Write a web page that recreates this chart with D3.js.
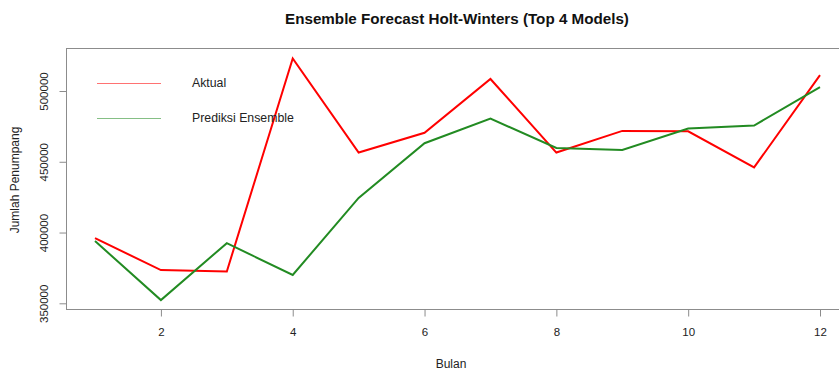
<!DOCTYPE html>
<html><head><meta charset="utf-8">
<script src="https://cdn.jsdelivr.net/npm/d3@7"></script>
<style>body{margin:0;background:#fff;} text{font-family:"Liberation Sans",Arial,sans-serif;}</style>
</head><body>
<svg id="c" width="839" height="370"></svg>
<script>
const months = [1,2,3,4,5,6,7,8,9,10,11,12];
const aktual = [396000,373500,372500,523000,456500,470500,508500,456500,471800,471500,446000,511200];
const ensemble = [394000,352300,392500,370000,424500,463100,480500,459800,458400,473500,475600,502800];
const xTicks = [2,4,6,8,10,12];
const yTicks = [350000,400000,450000,500000];
const seriesNames = ["Aktual","Prediksi Ensemble"];
const seriesColors = ["#ff0000","#228b22"];

const svg = d3.select("#c");
const L=66, R=849, T=48, B=309;
const xs = d3.scaleLinear().domain([0.56,12.44]).range([L,R]);
const ys = d3.scaleLinear().domain([350000,500000]).range([303.3,91]);

// box
svg.append("rect").attr("x",L+0.5).attr("y",T+0.5).attr("width",R-L).attr("height",B-T)
  .attr("fill","none").attr("stroke","#8c8c8c").attr("stroke-width",1);

// x axis
const xa = svg.append("g").attr("transform",`translate(0,${B+0.5})`)
  .call(d3.axisBottom(xs).tickValues(xTicks).tickSize(7).tickPadding(11).tickFormat(d3.format("d")));
xa.select(".domain").remove();
xa.selectAll("line").attr("stroke","#8c8c8c");
xa.selectAll("text").attr("font-size","11.5px").attr("fill","#222").attr("font-family","Liberation Sans, Arial, sans-serif");

// y axis
const ya = svg.append("g").attr("transform",`translate(${L+0.5},0)`)
  .call(d3.axisLeft(ys).tickValues(yTicks).tickSize(7).tickFormat(d3.format("d")));
ya.select(".domain").remove();
ya.selectAll("line").attr("stroke","#8c8c8c");
ya.selectAll("text").attr("font-size","11.5px").attr("fill","#222")
  .attr("font-family","Liberation Sans, Arial, sans-serif")
  .attr("text-anchor","middle").attr("x",0).attr("dy",0)
  .attr("transform","translate(-19,0) rotate(-90)");

// lines
const line = d3.line().x((d,i)=>xs(months[i])).y(d=>ys(d));
svg.append("path").datum(aktual).attr("d",line).attr("fill","none")
  .attr("stroke",seriesColors[0]).attr("stroke-width",2).attr("stroke-linejoin","miter");
svg.append("path").datum(ensemble).attr("d",line).attr("fill","none")
  .attr("stroke",seriesColors[1]).attr("stroke-width",2).attr("stroke-linejoin","miter");

// legend
seriesNames.forEach((n,i)=>{
  const yy = 83 + i*35;
  svg.append("line").attr("x1",97).attr("x2",161).attr("y1",yy+0.5).attr("y2",yy+0.5)
    .attr("stroke",seriesColors[i]).attr("stroke-width",1).attr("opacity",0.55);
  svg.append("text").attr("x",192).attr("y",yy+4).attr("font-size","12.3px").attr("fill","#222").text(n);
});

// title & labels
svg.append("text").attr("x",457).attr("y",24).attr("text-anchor","middle")
  .attr("font-size","15.2px").attr("font-weight","bold").attr("fill","#111")
  .text("Ensemble Forecast Holt-Winters (Top 4 Models)");
svg.append("text").attr("x",451).attr("y",368).attr("text-anchor","middle")
  .attr("font-size","12px").attr("fill","#222").text("Bulan");
svg.append("text").attr("transform","translate(19,180) rotate(-90)").attr("text-anchor","middle")
  .attr("font-size","12px").attr("fill","#222").text("Jumlah Penumpang");
</script>
</body></html>
